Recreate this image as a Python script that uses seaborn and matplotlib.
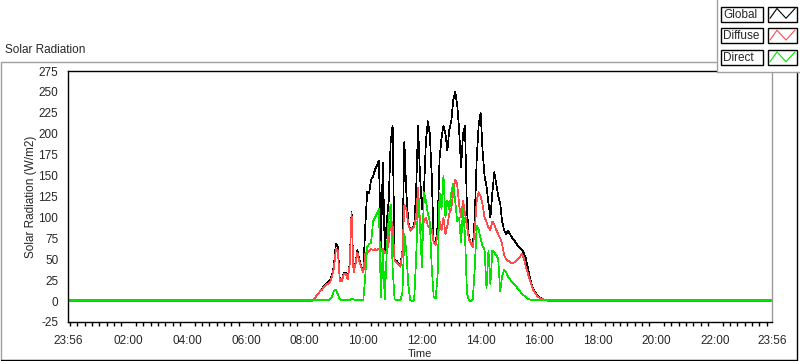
import numpy as np
import pandas as pd
import matplotlib
matplotlib.use("Agg")
import matplotlib.pyplot as plt
import seaborn as sns
from matplotlib.patches import Rectangle

# daytime readings, one value every 4 minutes starting at 08:16 (W/m2)
day_start_min = 8 * 60 + 16
step_min = 4

global_day = [
    0.5, 3, 6, 9, 12, 15, 18, 20, 23, 25,
    31, 43, 69, 65, 25, 25, 33, 34, 27, 43,
    107, 35, 45, 61, 49, 41, 35, 89, 131, 129,
    145, 149, 157, 162, 168, 64, 165, 60, 95, 120,
    190, 210, 50, 48, 45, 42, 60, 190, 130, 95,
    85, 88, 90, 130, 210, 150, 110, 130, 190, 215,
    200, 150, 70, 68, 90, 170, 195, 210, 200, 180,
    205, 215, 240, 250, 235, 205, 160, 200, 210, 110,
    75, 70, 65, 100, 170, 210, 225, 180, 150, 137,
    117, 100, 130, 154, 140, 125, 117, 95, 85, 80,
    84, 80, 76, 73, 70, 66, 64, 62, 58, 52,
    42, 30, 20, 14, 10, 7, 5, 3, 2, 1,
    0.5, 0, 0, 0, 0, 0, 0,
]

diffuse_day = [
    0.5, 3, 6, 9, 12, 14, 17, 19, 21, 23,
    29, 40, 62, 60, 24, 24, 32, 33, 26, 42,
    105, 34, 44, 58, 47, 40, 34, 57, 58, 60,
    62, 61, 62, 61, 63, 60, 63, 57, 60, 70,
    100, 90, 48, 46, 44, 41, 58, 115, 110, 92,
    84, 87, 89, 100, 135, 95, 85, 95, 100, 90,
    88, 85, 70, 67, 80, 95, 85, 100, 80, 90,
    105, 110, 130, 145, 140, 115, 100, 120, 105, 90,
    74, 69, 64, 85, 120, 130, 125, 115, 100, 95,
    88, 85, 95, 92, 85, 80, 75, 68, 55, 50,
    48, 47, 45, 46, 48, 50, 52, 57, 52, 42,
    34, 26, 19, 13, 9, 6, 4, 3, 2, 1,
    0.5, 0, 0, 0, 0, 0, 0,
]

direct_day = [
    1, 1, 1, 1, 1, 1, 1, 1, 1, 2,
    5, 12, 14, 8, 2, 1, 1, 1, 1, 1,
    3, 2, 1, 1, 1, 1, 1, 30, 65, 68,
    70, 95, 100, 105, 110, 5, 60, 2, 60, 100,
    115, 40, 2, 1, 1, 1, 10, 80, 60, 20,
    1, 0, 1, 50, 120, 90, 40, 130, 120, 105,
    95, 40, 5, 3, 30, 130, 110, 150, 100, 120,
    110, 130, 140, 120, 95, 100, 70, 110, 80, 10,
    1, 0, 2, 40, 90, 85, 75, 65, 62, 15,
    60, 20, 60, 58, 55, 50, 12, 30, 37, 35,
    29, 26, 23, 20, 18, 15, 12, 9, 7, 5,
    3, 2, 1, 1, 1, 1, 1, 1, 1, 1,
    1, 1, 1, 1, 1, 1, 1,
]

series_names = ["Global", "Diffuse", "Direct"]
series_values = [global_day, diffuse_day, direct_day]
night_levels = [-0.5, -0.5, 1.2]
series_colors = ["#000000", "#ff4a4a", "#00e400"]

x_tick_hours = [-4 / 60, 2, 4, 6, 8, 10, 12, 14, 16, 18, 20, 22, 24 - 4 / 60]
x_tick_labels = ["23:56", "02:00", "04:00", "06:00", "08:00", "10:00", "12:00",
                 "14:00", "16:00", "18:00", "20:00", "22:00", "23:56"]
y_ticks = list(range(-25, 276, 25))

# long-form table: night level before and after the daytime readings
rows = []
for name, vals, night in zip(series_names, series_values, night_levels):
    mins = [-4, day_start_min - step_min]
    ys = [night, night]
    for k, v in enumerate(vals):
        mins.append(day_start_min + k * step_min)
        ys.append(v)
    mins += [day_start_min + len(vals) * step_min, 24 * 60 - 4]
    ys += [night, night]
    for m, y in zip(mins, ys):
        rows.append({"Hour": m / 60.0, "Solar Radiation": y, "Series": name})
df = pd.DataFrame(rows)

sns.set_style("white")
plt.rcParams["font.family"] = ["Liberation Sans", "DejaVu Sans"]

W, H = 800, 361
fig = plt.figure(figsize=(W / 100, H / 100), dpi=100)
fig.patch.set_facecolor("white")

ax = fig.add_axes([68 / W, (H - 322) / H, 704 / W, 251 / H])
sns.lineplot(data=df, x="Hour", y="Solar Radiation", hue="Series",
             hue_order=series_names, palette=series_colors, estimator=None,
             sort=False, linewidth=0.5, legend=False, ax=ax)
for ln in ax.get_lines():
    ln.set_antialiased(False)

ax.set_xlim(-4 / 60, 24 - 4 / 60)
ax.set_ylim(-25, 275)
ax.set_yticks(y_ticks)
ax.set_yticklabels([str(v) for v in y_ticks])
ax.set_xticks(x_tick_hours)
ax.set_xticklabels(x_tick_labels)
ax.set_xticks(np.arange(0, 24, 0.25), minor=True)
ax.tick_params(axis="both", which="major", direction="out", length=5, width=1,
               labelsize=8.5, color="black", pad=2)
ax.tick_params(axis="x", which="major", length=6, pad=3)
ax.tick_params(axis="x", which="minor", direction="out", length=3, width=1,
               color="black", bottom=True)
ax.set_ylabel("Solar Radiation (W/m2)", fontsize=8.5, labelpad=1)
ax.set_xlabel("Time", fontsize=8, labelpad=1.5)
for side in ["top", "left", "bottom"]:
    ax.spines[side].set_color("black")
    ax.spines[side].set_linewidth(1)
ax.spines["right"].set_color("#9a9a9a")
ax.spines["right"].set_linewidth(1)
ax.grid(False)

# overlay in pixel coordinates for the frame, caption and legend
ov = fig.add_axes([0, 0, 1, 1], zorder=5)
ov.set_xlim(0, W)
ov.set_ylim(H, 0)
ov.axis("off")
ov.patch.set_alpha(0)

ov.plot([1, 717], [62, 62], color="#a0a0a0", lw=1)
ov.plot([1, 1], [62, 359], color="#a0a0a0", lw=1)
ov.plot([1, 797], [359.5, 359.5], color="black", lw=1)
ov.plot([797, 797], [72, 359.5], color="black", lw=1)
ov.text(5, 50, "Solar Radiation", fontsize=8.5, va="center", ha="left")

# legend panel
ov.add_patch(Rectangle((717, -1), 90, 73, facecolor="white", edgecolor="none"))
ov.plot([717, 717], [0, 72], color="#a0a0a0", lw=1)
ov.plot([717, 800], [72, 72], color="#a0a0a0", lw=1)
for k, (name, col) in enumerate(zip(series_names, series_colors)):
    y0 = 6.7 + k * 21.7
    ov.add_patch(Rectangle((720.5, y0), 42.5, 15, facecolor="white",
                           edgecolor="black", lw=1))
    ov.text(723, y0 + 7.8, name, fontsize=8.5, va="center", ha="left")
    ov.add_patch(Rectangle((767.5, y0), 29, 15, facecolor="white",
                           edgecolor="black", lw=1))
    ov.plot([770, 777, 786, 795], [y0 + 11.6, y0 + 1.8, y0 + 11.6, y0 + 1.8],
            color=col, lw=0.8)

fig.savefig("out.png", dpi=100)
